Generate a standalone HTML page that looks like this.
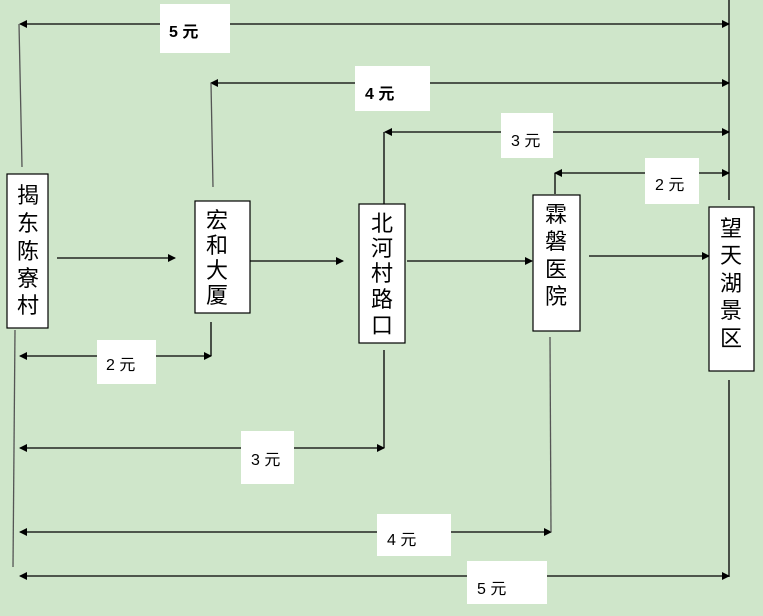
<!DOCTYPE html>
<html><head><meta charset="utf-8"><style>
html,body{margin:0;padding:0;background:#cfe6ca;}
svg{display:block}
text{font-family:"Liberation Sans","Noto Sans CJK SC",sans-serif;fill:#000}
</style></head><body>
<svg width="763" height="616" viewBox="0 0 763 616" xmlns="http://www.w3.org/2000/svg">
<defs>
<marker id="a" markerWidth="8" markerHeight="8" refX="7" refY="4" orient="auto" markerUnits="userSpaceOnUse"><path d="M0,0 L8,4 L0,8 z" fill="#000"/></marker>
<marker id="b" markerWidth="8" markerHeight="8" refX="1" refY="4" orient="auto" markerUnits="userSpaceOnUse"><path d="M8,0 L0,4 L8,8 z" fill="#000"/></marker>
</defs>
<rect width="763" height="616" fill="#cfe6ca"/>
<g stroke="#000" stroke-width="1.3" fill="none">
<!-- top -->
<line x1="20" y1="24" x2="729" y2="24" marker-start="url(#b)" marker-end="url(#a)"/>
<line x1="19" y1="24" x2="22" y2="167" stroke="#555"/>
<line x1="211" y1="83" x2="729" y2="83" marker-start="url(#b)" marker-end="url(#a)"/>
<line x1="211" y1="83" x2="213" y2="187" stroke="#555"/>
<line x1="385" y1="132" x2="729" y2="132" marker-start="url(#b)" marker-end="url(#a)"/>
<line x1="384" y1="132" x2="384" y2="204"/>
<line x1="555" y1="173" x2="729" y2="173" marker-start="url(#b)" marker-end="url(#a)"/>
<line x1="555" y1="173" x2="555" y2="194"/>
<line x1="729" y1="0" x2="729" y2="200"/>
<line x1="729" y1="380" x2="729" y2="577"/>
<!-- mid -->
<line x1="57" y1="258" x2="175" y2="258" marker-end="url(#a)"/>
<line x1="232" y1="261" x2="343" y2="261" marker-end="url(#a)"/>
<line x1="407" y1="261" x2="532" y2="261" marker-end="url(#a)"/>
<line x1="589" y1="256" x2="709" y2="256" marker-end="url(#a)"/>
<!-- bottom -->
<line x1="15" y1="330" x2="13" y2="567" stroke="#555"/>
<line x1="20" y1="356" x2="211" y2="356" marker-start="url(#b)" marker-end="url(#a)"/>
<line x1="211" y1="322" x2="211" y2="356"/>
<line x1="20" y1="448" x2="384" y2="448" marker-start="url(#b)" marker-end="url(#a)"/>
<line x1="384" y1="350" x2="384" y2="448"/>
<line x1="20" y1="532" x2="551" y2="532" marker-start="url(#b)" marker-end="url(#a)"/>
<line x1="550" y1="337" x2="551" y2="532" stroke="#555"/>
<line x1="20" y1="576" x2="729" y2="576" marker-start="url(#b)" marker-end="url(#a)"/>
</g>
<!-- label boxes -->
<g fill="#fff">
<rect x="160" y="4" width="70" height="49"/>
<rect x="355" y="66" width="75" height="45"/>
<rect x="501" y="113" width="52" height="45"/>
<rect x="645" y="158" width="54" height="46"/>
<rect x="97" y="340" width="59" height="44"/>
<rect x="241" y="431" width="53" height="53"/>
<rect x="377" y="514" width="74" height="42"/>
<rect x="467" y="561" width="80" height="43"/>
</g>
<g font-size="16">
<text x="169" y="37" font-weight="bold">5 元</text>
<text x="365" y="99" font-weight="bold">4 元</text>
<text x="511" y="146">3 元</text>
<text x="655" y="190">2 元</text>
<text x="106" y="370">2 元</text>
<text x="251" y="465">3 元</text>
<text x="387" y="545">4 元</text>
<text x="477" y="594">5 元</text>
</g>
<!-- nodes -->
<g fill="#fff" stroke="#000" stroke-width="1.2">
<rect x="7" y="174" width="41" height="154"/>
<rect x="195" y="201" width="55" height="112"/>
<rect x="359" y="204" width="46" height="139"/>
<rect x="533" y="195" width="47" height="136"/>
<rect x="709" y="207" width="45" height="164"/>
</g>
<g font-size="22" text-anchor="middle">
<text x="28" y="203">揭</text><text x="28" y="231">东</text><text x="28" y="259">陈</text><text x="28" y="286">寮</text><text x="28" y="313">村</text>
<text x="217" y="228">宏</text><text x="217" y="253">和</text><text x="217" y="278">大</text><text x="217" y="303">厦</text>
<text x="382" y="231">北</text><text x="382" y="256">河</text><text x="382" y="281">村</text><text x="382" y="307">路</text><text x="382" y="333">口</text>
<text x="556" y="222">霖</text><text x="556" y="249">磐</text><text x="556" y="277">医</text><text x="556" y="304">院</text>
<text x="731" y="236">望</text><text x="731" y="263">天</text><text x="731" y="291">湖</text><text x="731" y="318">景</text><text x="731" y="346">区</text>
</g>
</svg>
</body></html>
